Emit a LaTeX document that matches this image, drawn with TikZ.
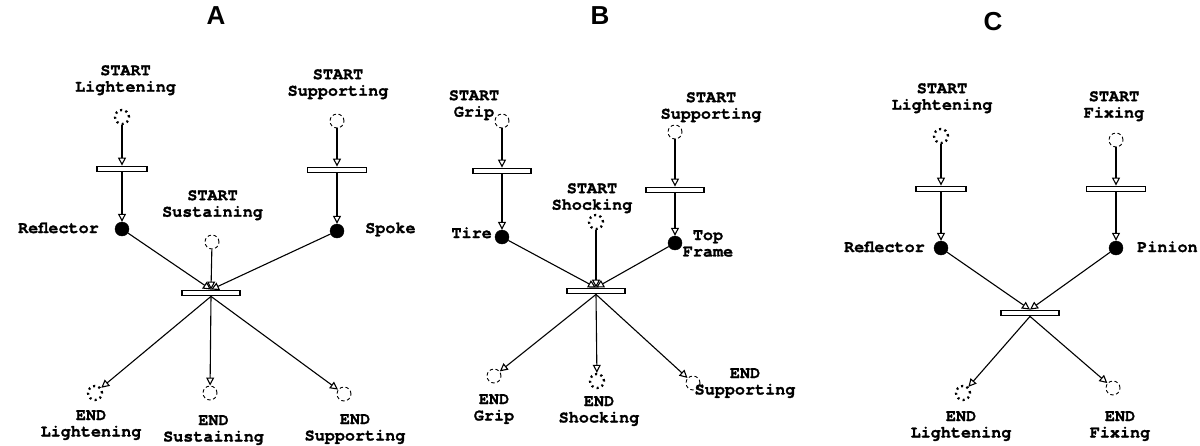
\documentclass[tikz,border=0pt]{standalone}
\usepackage{fontspec}
\setmonofont{TeX Gyre Cursor}[BoldFeatures={FakeBold=1.3}]
\newfontfamily\titlefamily{Liberation Sans}
\usetikzlibrary{arrows.meta}

\newcommand\lblfont{\ttfamily\bfseries\fontsize{16.8}{16.5}\selectfont}
\newcommand\ttlfont{\titlefamily\bfseries\fontsize{26}{26}\selectfont}

\tikzset{
  conn/.style={line width=1.1pt,
    -{Triangle[open,length=8pt,width=8pt,line width=1.1pt]}},
  bar/.style={draw, fill=white, line width=1.3pt, inner sep=0pt,
    minimum height=5.5pt, minimum width=#1},
  bar/.default=58pt,
  thickring/.style={circle, draw, inner sep=0pt, minimum size=14pt,
    line width=2.3pt, dash pattern=on 2pt off 3.4pt},
  thinring/.style={circle, draw, inner sep=0pt, minimum size=14pt,
    line width=0.9pt, dash pattern=on 3.4pt off 2.6pt},
  place/.style={circle, draw, fill=black, inner sep=0pt, minimum size=14pt},
  lbl/.style={font=\lblfont, align=center, inner sep=0pt, anchor=north},
  side/.style={font=\lblfont, inner sep=0pt},
  ttl/.style={font=\ttlfont, inner sep=0pt}
}

\begin{document}
\begin{tikzpicture}[x=1pt,y=-1pt]
\useasboundingbox (0,0) rectangle (1200,445);

% ---------------- panel A ----------------
\node[ttl] (titleA) at (216,16) {A};
\node[lbl] (lslA) at (125.5,65) {START\\Lightening};
\node[lbl] (lssA) at (338,69) {START\\Supporting};
\node[lbl] (lsusA) at (212.5,190) {START\\Sustaining};
\node[lbl] (lelA) at (91,410) {END\\Lightening};
\node[lbl] (lesusA) at (213.5,415) {END\\Sustaining};
\node[lbl] (lesupA) at (355,414) {END\\Supporting};
\node[side, anchor=base east] (lrefA) at (99,233) {Reflector};
\node[side, anchor=base west] (lspoke) at (365,233) {Spoke};

\node[thickring] (slA) at (122,117) {};
\node[bar=50pt] (tA1) at (122,169) {};
\node[place] (pRefA) at (122,229) {};
\node[thinring] (ssA) at (337,121) {};
\node[bar=59pt] (tA2) at (337,170) {};
\node[place] (pSpoke) at (337,231) {};
\node[thinring] (sSus) at (212,242) {};
\node[bar] (tA) at (211,293) {};
\node[thickring] (elA) at (95,393) {};
\node[thinring] (esusA) at (210,393) {};
\node[thinring] (esupA) at (344,394) {};

\draw[conn] (slA) -- (tA1.north);
\draw[conn] (tA1.south) -- (pRefA);
\draw[conn] (ssA) -- (tA2.north);
\draw[conn] (tA2.south) -- (pSpoke);
\draw[conn] (pRefA) -- (tA.north);
\draw[conn] (sSus) -- (tA.north);
\draw[conn] (pSpoke) -- (tA.north);
\draw[conn] (tA.south) -- (elA);
\draw[conn] (tA.south) -- (esusA);
\draw[conn] (tA.south) -- (esupA);

% ---------------- panel B ----------------
\node[ttl] (titleB) at (600,16) {B};
\node[lbl] (lgripB) at (474,90) {START\\Grip};
\node[lbl] (lssB) at (711,92) {START\\Supporting};
\node[lbl] (lshB) at (592,183) {START\\Shocking};
\node[side, anchor=base east] (ltire) at (492,238) {Tire};
\node[lbl] (ltop) at (708,230) {Top\\Frame};
\node[lbl] (legB) at (494,394) {END\\Grip};
\node[lbl] (leshB) at (599,396) {END\\Shocking};
\node[lbl] (lesupB) at (745,368) {END\\Supporting};

\node[thinring] (sGrip) at (502,121) {};
\node[bar] (tB1) at (502,171) {};
\node[place] (pTire) at (502,237) {};
\node[thinring] (ssB) at (675,132) {};
\node[bar] (tB2) at (675,190) {};
\node[place] (pTop) at (675,243) {};
\node[thickring] (sShock) at (596,222) {};
\node[bar] (tB) at (596,291) {};
\node[thinring] (eGrip) at (494,376) {};
\node[thickring] (eShock) at (597,381) {};
\node[thinring] (esupB) at (693,383) {};

\draw[conn] (sGrip) -- (tB1.north);
\draw[conn] (tB1.south) -- (pTire);
\draw[conn] (ssB) -- (tB2.north);
\draw[conn] (tB2.south) -- (pTop);
\draw[conn] (pTire) -- (tB.north);
\draw[conn] (sShock) -- (tB.north);
\draw[conn] (pTop) -- (tB.north);
\draw[conn] (tB.south) -- (eGrip);
\draw[conn] (tB.south) -- (eShock);
\draw[conn] (tB.south) -- (esupB);

% ---------------- panel C ----------------
\node[ttl] (titleC) at (993,22) {C};
\node[lbl] (lslC) at (942,83) {START\\Lightening};
\node[lbl] (lsfix) at (1114,91) {START\\Fixing};
\node[side, anchor=base east] (lrefC) at (925,252) {Reflector};
\node[side, anchor=base west] (lpin) at (1137,252) {Pinion};
\node[lbl] (lelC) at (961,411) {END\\Lightening};
\node[lbl] (lefix) at (1120,411) {END\\Fixing};

\node[thickring] (slC) at (941,136) {};
\node[bar=50pt] (tC1) at (941,189) {};
\node[place] (pRefC) at (941,248) {};
\node[thinring] (sFix) at (1116,140) {};
\node[bar=59pt] (tC2) at (1116,189) {};
\node[place] (pPin) at (1116,248) {};
\node[bar] (tC) at (1030,313) {};
\node[thickring] (elC) at (963,393) {};
\node[thinring] (eFix) at (1113,388) {};

\draw[conn] (slC) -- (tC1.north);
\draw[conn] (tC1.south) -- (pRefC);
\draw[conn] (sFix) -- (tC2.north);
\draw[conn] (tC2.south) -- (pPin);
\draw[conn] (pRefC) -- (tC.north);
\draw[conn] (pPin) -- (tC.north);
\draw[conn] (tC.south) -- (elC);
\draw[conn] (tC.south) -- (eFix);
\end{tikzpicture}
\end{document}
